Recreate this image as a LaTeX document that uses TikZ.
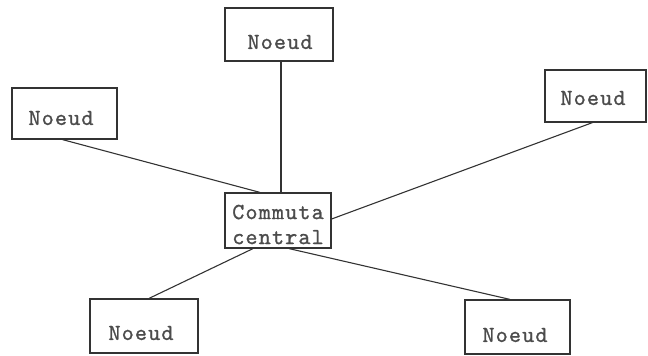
\documentclass[tikz,border=0pt]{standalone}
\usepackage{fontspec}
\newfontfamily\twfont{lmmono10-regular.otf}[LetterSpace=5,FakeBold=1]
\begin{document}
\begin{tikzpicture}[x=1pt,y=-1pt,
  box/.style={draw=black!80, line width=1.2pt, rectangle, inner sep=0pt},
  lbl/.style={inner sep=0pt, text=black!70, font=\twfont\fontsize{23}{25}\selectfont, align=center},
  link/.style={draw=black!80, line width=1.1pt}]
  \useasboundingbox (0,0) rectangle (648,356);

  % switching centre
  \node[box, minimum width=106pt, minimum height=55pt] (hub) at (278,220.5) {};
  \node[lbl] (hubt) at ([yshift=-4pt]hub.center) {Commuta\\central};

  % surrounding nodes
  \node[box, minimum width=108pt, minimum height=53pt] (top) at (279,34.5) {};
  \node[lbl] (topt) at ([xshift=1pt,yshift=-7.5pt]top.center) {Noeud};

  \node[box, minimum width=105pt, minimum height=51pt] (left) at (64.5,113.5) {};
  \node[lbl] (leftt) at ([xshift=-3.5pt,yshift=-4.5pt]left.center) {Noeud};

  \node[box, minimum width=101pt, minimum height=52pt] (right) at (595.5,96) {};
  \node[lbl] (rightt) at ([xshift=-2.5pt,yshift=-2pt]right.center) {Noeud};

  \node[box, minimum width=108pt, minimum height=54pt] (bl) at (144,326) {};
  \node[lbl] (blt) at ([xshift=-3pt,yshift=-7pt]bl.center) {Noeud};

  \node[box, minimum width=105pt, minimum height=54pt] (br) at (517.5,327) {};
  \node[lbl] (brt) at ([xshift=-2.5pt,yshift=-8pt]br.center) {Noeud};

  % links to the centre
  \draw[link] ([xshift=2pt]top.south) -- ([xshift=3pt]hub.north);
  \draw[link] ([xshift=-2pt]left.south) -- ([xshift=-18pt]hub.north);
  \draw[link] ([xshift=-3pt]right.south) -- ([yshift=1.5pt]hub.east);
  \draw[link] ([xshift=-25pt]hub.south) -- ([xshift=5pt]bl.north);
  \draw[link] ([xshift=11pt]hub.south) -- ([xshift=-7.5pt]br.north);
\end{tikzpicture}
\end{document}
